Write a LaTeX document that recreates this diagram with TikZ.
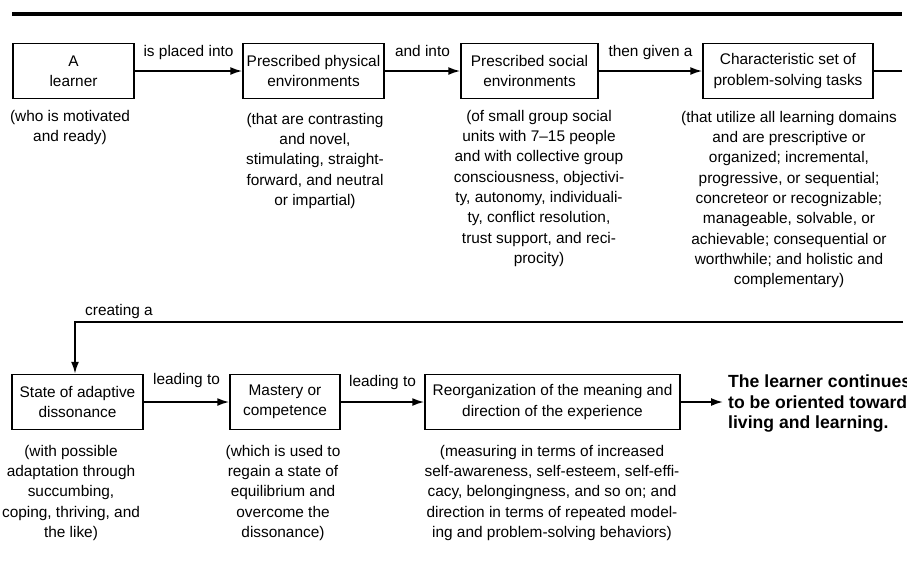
\documentclass[tikz,border=0pt]{standalone}
\usepackage{fontspec}
\setmainfont{Liberation Sans}
\usetikzlibrary{arrows.meta}
\begin{document}
\begin{tikzpicture}[x=1pt,y=-1pt,
  every node/.style={font=\fontsize{15.4}{20.3}\selectfont, inner sep=0pt},
  box/.style={draw, line width=1.5pt, align=center, minimum height=55pt},
  desc/.style={align=center, anchor=north},
  conn/.style={line width=1.8pt},
  arr/.style={conn, -{Latex[length=12pt,width=8pt]}},
  lbl/.style={midway, anchor=base, yshift=15pt},
  lbltwo/.style={midway, anchor=base, yshift=18pt},
  ]
\clip (0,0) rectangle (907,579);

% heavy rule across the top
\draw[line width=4pt] (12,13.5) -- (902,13.5);

% first row of steps
\node[box, minimum width=121pt] (learner) at (73.5,71) {A\\learner};
\node[box, minimum width=141pt] (phys)    at (313.5,71) {Prescribed physical\\environments};
\node[box, minimum width=137pt] (social)  at (529.5,71) {Prescribed social\\environments};
\node[box, minimum width=170pt] (tasks)   at (788,71) {Characteristic set of\\problem-solving tasks};

\draw[arr] (learner.east) -- (phys.west)   node[lbl] (l1) {is placed into};
\draw[arr] (phys.east)    -- (social.west) node[lbl] (l2) {and into};
\draw[arr] (social.east)  -- (tasks.west)  node[lbl] (l3) {then given a};

% notes under the first row
\node[desc] (d1) at (70,110) {(who is motivated\\and ready)};
\node[desc] (d2) at (315,113) {(that are contrasting\\and novel,\\stimulating, straight-\\forward, and neutral\\or impartial)};
\node[desc] (d3) at (539,110) {(of small group social\\units with 7--15 people\\and with collective group\\consciousness, objectivi-\\ty, autonomy, individuali-\\ty, conflict resolution,\\trust support, and reci-\\procity)};
\node[desc] (d4) at (789,111) {(that utilize all learning domains\\and are prescriptive or\\organized; incremental,\\progressive, or sequential;\\concreteor or recognizable;\\manageable, solvable, or\\achievable; consequential or\\worthwhile; and holistic and\\complementary)};

% second row of steps
\node[box, minimum width=131pt] (state)   at (77.5,402) {State of adaptive\\dissonance};
\node[box, minimum width=110pt] (mastery) at (285,402) {Mastery or\\competence};
\node[box, minimum width=255pt] (reorg)   at (552.5,402) {Reorganization of the meaning and\\direction of the experience};
\node[anchor=north west, align=left, font=\fontsize{17.6}{20.7}\selectfont\bfseries] (out) at (728,374.5)
  {The learner continues\\to be oriented toward\\living and learning.};
\coordinate (outin) at ([xshift=-5pt]out.west |- reorg.east);

% wrap-around connector from the first row down to the second
\coordinate (wrapA) at (902,71);
\coordinate (wrapB) at (903,322);
\coordinate (wrapC) at (75,322);
\draw[conn] (tasks.east) -- (wrapA);
\draw[arr] (wrapB) -- (wrapC) -- (wrapC |- state.north);
\node[anchor=base west] (l4) at (85,315.5) {creating a};

\draw[arr] (state.east)   -- (mastery.west) node[lbltwo] (l5) {leading to};
\draw[arr] (mastery.east) -- (reorg.west)   node[lbltwo, yshift=-2pt] (l6) {leading to};
\draw[arr] (reorg.east)   -- (outin);

% notes under the second row
\node[desc] (d5) at (71,445) {(with possible\\adaptation through\\succumbing,\\coping, thriving, and\\the like)};
\node[desc] (d6) at (283,445) {(which is used to\\regain a state of\\equilibrium and\\overcome the\\dissonance)};
\node[desc] (d7) at (552,445) {(measuring in terms of increased\\self-awareness, self-esteem, self-effi-\\cacy, belongingness, and so on; and\\direction in terms of repeated model-\\ing and problem-solving behaviors)};
\end{tikzpicture}
\end{document}
